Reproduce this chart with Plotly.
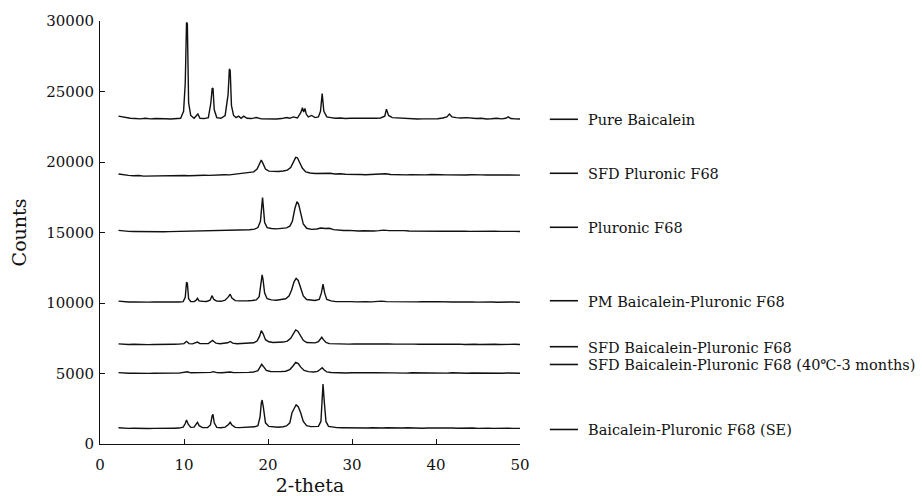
import plotly.graph_objects as go

# ---- data (2-theta, counts) ----
pure_baicalein = [(2.2,23250),(2.6,23200),(3.0,23180),(3.6,23100),(4.2,23080),(4.8,23060),(5.4,23100),(6.0,23060),(6.6,23080),(7.2,23050),(7.8,23070),(8.4,23050),(9.0,23080),(9.6,23100),(9.95,23600),(10.15,25600),(10.3,29900),(10.4,29800),(10.55,24200),(10.8,23300),(11.2,23100),(11.45,23250),(11.65,23400),(11.9,23100),(12.4,23080),(12.9,23150),(13.2,24200),(13.35,25200),(13.45,25250),(13.6,23700),(13.9,23150),(14.4,23100),(14.9,23300),(15.25,24800),(15.4,26600),(15.5,26500),(15.65,24000),(15.9,23300),(16.2,23150),(16.5,23250),(16.8,23100),(17.1,23250),(17.5,23100),(18.0,23080),(18.6,23150),(19.2,23060),(19.8,23050),(20.4,23060),(21.0,23050),(21.6,23080),(22.2,23150),(22.6,23100),(23.0,23200),(23.5,23120),(23.9,23500),(24.1,23850),(24.25,23550),(24.4,23800),(24.55,23400),(24.8,23200),(25.2,23300),(25.6,23150),(26.0,23200),(26.25,23600),(26.45,24850),(26.65,23600),(27.0,23200),(27.5,23150),(28.0,23100),(28.6,23120),(29.2,23080),(29.8,23100),(30.4,23090),(31.0,23100),(31.6,23070),(32.2,23090),(32.8,23100),(33.4,23120),(33.9,23250),(34.1,23750),(34.35,23300),(34.8,23150),(35.4,23120),(36.0,23100),(36.6,23060),(37.2,23060),(37.8,23050),(38.4,23060),(39.0,23050),(39.6,23060),(40.2,23070),(40.8,23120),(41.3,23200),(41.6,23400),(41.9,23200),(42.4,23150),(43.0,23120),(43.6,23150),(44.2,23100),(44.8,23080),(45.4,23100),(46.0,23050),(46.6,23070),(47.2,23100),(47.8,23060),(48.3,23100),(48.6,23200),(48.9,23080),(49.4,23060),(50.0,23050)]

sfd_pluronic = [(2.2,19150),(2.8,19080),(3.4,19050),(4.0,19020),(4.6,19040),(5.2,19000),(5.8,19010),(6.4,18990),(7.0,19000),(7.6,18990),(8.2,19010),(8.8,19030),(9.4,19020),(10.0,19040),(10.6,19030),(11.2,19050),(11.8,19040),(12.4,19060),(13.0,19050),(13.6,19080),(14.2,19070),(14.8,19100),(15.4,19090),(16.0,19130),(16.6,19150),(17.2,19180),(17.8,19230),(18.3,19300),(18.7,19500),(19.0,19900),(19.2,20140),(19.4,19900),(19.7,19500),(20.1,19350),(20.6,19320),(21.2,19330),(21.8,19360),(22.3,19420),(22.7,19600),(23.0,20000),(23.3,20330),(23.5,20300),(23.8,19950),(24.1,19550),(24.5,19300),(25.0,19220),(25.6,19180),(26.2,19200),(26.8,19230),(27.4,19200),(28.0,19150),(28.6,19170),(29.2,19130),(29.8,19140),(30.4,19120),(31.0,19110),(31.6,19100),(32.2,19120),(32.8,19100),(33.4,19110),(34.0,19170),(34.6,19110),(35.2,19090),(35.8,19100),(36.4,19090),(37.0,19100),(37.6,19080),(38.2,19100),(38.8,19090),(39.4,19110),(40.0,19080),(40.6,19100),(41.2,19090),(41.8,19080),(42.4,19100),(43.0,19090),(43.6,19080),(44.2,19100),(44.8,19070),(45.4,19090),(46.0,19080),(46.6,19100),(47.2,19070),(47.8,19090),(48.4,19080),(49.0,19070),(49.6,19090),(50.0,19070)]

pluronic = [(2.2,15150),(2.8,15100),(3.4,15080),(4.0,15070),(4.6,15060),(5.2,15050),(5.8,15050),(6.4,15040),(7.0,15050),(7.6,15050),(8.2,15060),(8.8,15070),(9.4,15060),(10.0,15080),(10.6,15070),(11.2,15090),(11.8,15080),(12.4,15100),(13.0,15110),(13.6,15100),(14.2,15130),(14.8,15120),(15.4,15150),(16.0,15140),(16.6,15170),(17.2,15180),(17.8,15200),(18.4,15240),(18.8,15350),(19.1,15800),(19.25,17000),(19.35,17470),(19.45,16800),(19.6,15700),(19.9,15350),(20.4,15280),(21.0,15260),(21.6,15300),(22.2,15330),(22.6,15450),(22.9,15800),(23.2,16700),(23.45,17180),(23.65,17000),(23.9,16300),(24.2,15600),(24.6,15300),(25.2,15220),(25.8,15250),(26.3,15320),(26.8,15280),(27.3,15300),(27.8,15200),(28.4,15150),(29.0,15140),(29.6,15150),(30.2,15120),(30.8,15110),(31.4,15120),(32.0,15100),(32.6,15110),(33.2,15130),(33.8,15170),(34.4,15130),(35.0,15140),(35.6,15110),(36.2,15130),(36.8,15110),(37.4,15100),(38.0,15110),(38.6,15100),(39.2,15110),(39.8,15090),(40.4,15100),(41.0,15090),(41.6,15100),(42.2,15080),(42.8,15100),(43.4,15090),(44.0,15080),(44.6,15090),(45.2,15080),(45.8,15090),(46.4,15070),(47.0,15090),(47.6,15080),(48.2,15090),(48.8,15110),(49.4,15080),(50.0,15070)]

pm_mixture = [(2.2,10130),(2.8,10090),(3.4,10070),(4.0,10080),(4.6,10060),(5.2,10070),(5.8,10060),(6.4,10070),(7.0,10060),(7.6,10080),(8.2,10070),(8.8,10080),(9.4,10070),(9.9,10100),(10.15,10400),(10.3,11470),(10.4,11400),(10.55,10300),(10.8,10110),(11.2,10100),(11.45,10200),(11.6,10330),(11.8,10150),(12.2,10120),(12.7,10110),(13.1,10200),(13.35,10520),(13.55,10250),(13.9,10130),(14.4,10120),(14.9,10200),(15.3,10450),(15.5,10620),(15.7,10350),(16.1,10170),(16.6,10150),(17.1,10180),(17.6,10160),(18.1,10180),(18.6,10220),(18.95,10450),(19.15,11300),(19.3,11990),(19.4,11700),(19.6,10700),(19.9,10300),(20.4,10220),(21.0,10200),(21.6,10250),(22.1,10300),(22.5,10500),(22.8,10900),(23.1,11500),(23.35,11750),(23.6,11600),(23.9,11050),(24.2,10500),(24.6,10250),(25.1,10200),(25.6,10180),(26.1,10250),(26.35,10700),(26.55,11330),(26.75,10700),(27.0,10250),(27.5,10150),(28.1,10100),(28.7,10110),(29.3,10090),(29.9,10100),(30.5,10080),(31.1,10110),(31.7,10090),(32.3,10080),(32.9,10110),(33.5,10130),(34.1,10100),(34.7,10090),(35.3,10110),(35.9,10080),(36.5,10100),(37.1,10090),(37.7,10080),(38.3,10100),(38.9,10070),(39.5,10090),(40.1,10100),(40.7,10080),(41.3,10100),(41.9,10070),(42.5,10080),(43.1,10060),(43.7,10090),(44.3,10070),(44.9,10060),(45.5,10080),(46.1,10060),(46.7,10070),(47.3,10050),(47.9,10070),(48.5,10060),(49.1,10080),(49.7,10050),(50.0,10060)]

sfd_complex = [(2.2,7100),(2.8,7070),(3.4,7060),(4.0,7070),(4.6,7050),(5.2,7060),(5.8,7050),(6.4,7060),(7.0,7050),(7.6,7070),(8.2,7060),(8.8,7070),(9.4,7080),(10.0,7120),(10.3,7280),(10.6,7120),(11.0,7100),(11.3,7150),(11.6,7230),(11.9,7120),(12.4,7100),(12.9,7130),(13.4,7350),(13.8,7150),(14.3,7110),(14.8,7130),(15.2,7180),(15.5,7270),(15.8,7150),(16.3,7110),(16.8,7130),(17.3,7120),(17.8,7150),(18.3,7180),(18.7,7300),(19.0,7650),(19.2,8040),(19.4,7850),(19.7,7400),(20.1,7250),(20.6,7200),(21.2,7190),(21.8,7230),(22.3,7300),(22.7,7500),(23.0,7800),(23.3,8090),(23.55,8000),(23.85,7650),(24.2,7350),(24.6,7200),(25.1,7180),(25.6,7170),(26.0,7250),(26.25,7450),(26.4,7570),(26.6,7400),(26.9,7200),(27.3,7120),(27.8,7100),(28.4,7090),(29.0,7100),(29.6,7080),(30.2,7090),(30.8,7080),(31.4,7100),(32.0,7080),(32.6,7090),(33.2,7100),(33.8,7120),(34.4,7090),(35.0,7080),(35.6,7090),(36.2,7070),(36.8,7090),(37.4,7080),(38.0,7070),(38.6,7090),(39.2,7080),(39.8,7070),(40.4,7080),(41.0,7070),(41.6,7090),(42.2,7070),(42.8,7080),(43.4,7060),(44.0,7080),(44.6,7070),(45.2,7060),(45.8,7080),(46.4,7060),(47.0,7070),(47.6,7060),(48.2,7080),(48.8,7060),(49.4,7070),(50.0,7060)]

sfd_complex_aged = [(2.2,5060),(2.8,5030),(3.4,5020),(4.0,5030),(4.6,5010),(5.2,5020),(5.8,5010),(6.4,5020),(7.0,5010),(7.6,5030),(8.2,5020),(8.8,5030),(9.4,5030),(10.0,5060),(10.4,5120),(10.8,5050),(11.4,5060),(12.0,5050),(12.6,5060),(13.2,5080),(13.5,5130),(13.9,5060),(14.5,5050),(15.1,5070),(15.5,5110),(15.9,5060),(16.5,5050),(17.1,5070),(17.7,5080),(18.3,5110),(18.8,5200),(19.05,5450),(19.25,5650),(19.45,5500),(19.8,5220),(20.3,5140),(20.9,5120),(21.5,5130),(22.1,5160),(22.6,5280),(23.0,5550),(23.3,5790),(23.6,5700),(23.9,5450),(24.3,5220),(24.8,5130),(25.4,5110),(25.9,5150),(26.2,5280),(26.45,5410),(26.7,5250),(27.0,5110),(27.5,5070),(28.1,5050),(28.7,5060),(29.3,5040),(29.9,5050),(30.5,5040),(31.1,5060),(31.7,5040),(32.3,5050),(32.9,5060),(33.5,5050),(34.1,5070),(34.7,5050),(35.3,5040),(35.9,5050),(36.5,5030),(37.1,5050),(37.7,5040),(38.3,5030),(38.9,5050),(39.5,5040),(40.1,5030),(40.7,5040),(41.3,5030),(41.9,5050),(42.5,5030),(43.1,5040),(43.7,5020),(44.3,5040),(44.9,5030),(45.5,5020),(46.1,5040),(46.7,5020),(47.3,5030),(47.9,5020),(48.5,5040),(49.1,5020),(49.7,5030),(50.0,5020)]

se_complex = [(2.2,1150),(2.8,1120),(3.4,1110),(4.0,1120),(4.6,1100),(5.2,1110),(5.8,1100),(6.4,1110),(7.0,1100),(7.6,1120),(8.2,1110),(8.8,1120),(9.4,1130),(9.9,1200),(10.15,1450),(10.3,1700),(10.5,1400),(10.8,1180),(11.2,1200),(11.45,1400),(11.6,1540),(11.8,1300),(12.2,1160),(12.8,1170),(13.15,1350),(13.35,2000),(13.45,2100),(13.6,1500),(13.9,1180),(14.4,1150),(14.9,1200),(15.3,1380),(15.5,1540),(15.7,1350),(16.1,1180),(16.6,1160),(17.2,1180),(17.8,1190),(18.4,1220),(18.8,1300),(19.05,1900),(19.2,2900),(19.3,3120),(19.45,2600),(19.7,1500),(20.1,1250),(20.6,1200),(21.2,1190),(21.8,1220),(22.2,1280),(22.6,1500),(22.85,2200),(23.1,2500),(23.35,2770),(23.6,2650),(23.9,2200),(24.2,1600),(24.6,1300),(25.1,1230),(25.6,1220),(26.0,1250),(26.3,1600),(26.45,3500),(26.55,4260),(26.7,3000),(26.9,1600),(27.2,1250),(27.6,1200),(28.2,1160),(28.8,1150),(29.4,1140),(30.0,1150),(30.6,1130),(31.2,1140),(31.8,1130),(32.4,1150),(33.0,1130),(33.6,1140),(34.2,1150),(34.8,1130),(35.4,1140),(36.0,1130),(36.6,1150),(37.2,1130),(37.8,1140),(38.4,1120),(39.0,1130),(39.6,1140),(40.2,1120),(40.8,1140),(41.4,1120),(42.0,1130),(42.6,1120),(43.2,1140),(43.8,1120),(44.4,1130),(45.0,1110),(45.6,1130),(46.2,1120),(46.8,1110),(47.4,1130),(48.0,1110),(48.6,1120),(49.2,1110),(49.8,1120),(50.0,1110)]

series = [pure_baicalein, sfd_pluronic, pluronic, pm_mixture, sfd_complex, sfd_complex_aged, se_complex]
series_names = ["Pure Baicalein", "SFD Pluronic F68", "Pluronic F68", "PM Baicalein-Pluronic F68",
                "SFD Baicalein-Pluronic F68", "SFD Baicalein-Pluronic F68 (40\u2103-3 months)",
                "Baicalein-Pluronic F68 (SE)"]
# counts level at which each side label sits
label_levels = [23030, 19200, 15370, 10160, 6900, 5640, 1030]
x_ticks = [0, 10, 20, 30, 40, 50]
y_ticks = [0, 5000, 10000, 15000, 20000, 25000, 30000]

FONT = "DejaVu Serif"

fig = go.Figure()
for pts, name in zip(series, series_names):
    xs, ys = zip(*pts)
    fig.add_trace(go.Scatter(x=list(xs), y=list(ys), mode="lines", name=name,
                             line=dict(color="#111111", width=1.4), showlegend=False))

shapes = []
annotations = []
for name, lv in zip(series_names, label_levels):
    shapes.append(dict(type="line", xref="paper", yref="y", x0=1.071, x1=1.138, y0=lv, y1=lv,
                       line=dict(color="#111111", width=1.6)))
    annotations.append(dict(xref="paper", yref="y", x=1.157, y=lv, xanchor="left", yanchor="middle",
                            yshift=-1, text=name, showarrow=False,
                            font=dict(family=FONT, size=14.5, color="#111111")))

fig.update_layout(
    width=922, height=496,
    margin=dict(l=100, r=402, t=21, b=52),
    paper_bgcolor="white", plot_bgcolor="white",
    shapes=shapes, annotations=annotations,
    font=dict(family=FONT, color="#111111"),
    xaxis=dict(range=[0, 50], tickvals=x_ticks, ticks="inside", ticklen=5, tickcolor="#111111",
               showline=True, linecolor="#111111", linewidth=1, showgrid=False, zeroline=False,
               tickfont=dict(family=FONT, size=15), ticklabelstandoff=7, automargin=False,
               title=dict(text="2-theta", font=dict(family=FONT, size=19), standoff=2)),
    yaxis=dict(range=[0, 30000], tickvals=y_ticks, tickformat="d", ticks="inside", ticklen=5,
               tickcolor="#111111", showline=True, linecolor="#111111", linewidth=1,
               showgrid=False, zeroline=False, tickfont=dict(family=FONT, size=15),
               ticklabelstandoff=2, automargin=False,
               title=dict(text="Counts", font=dict(family=FONT, size=19), standoff=14)),
)

fig.write_html("out.html")
